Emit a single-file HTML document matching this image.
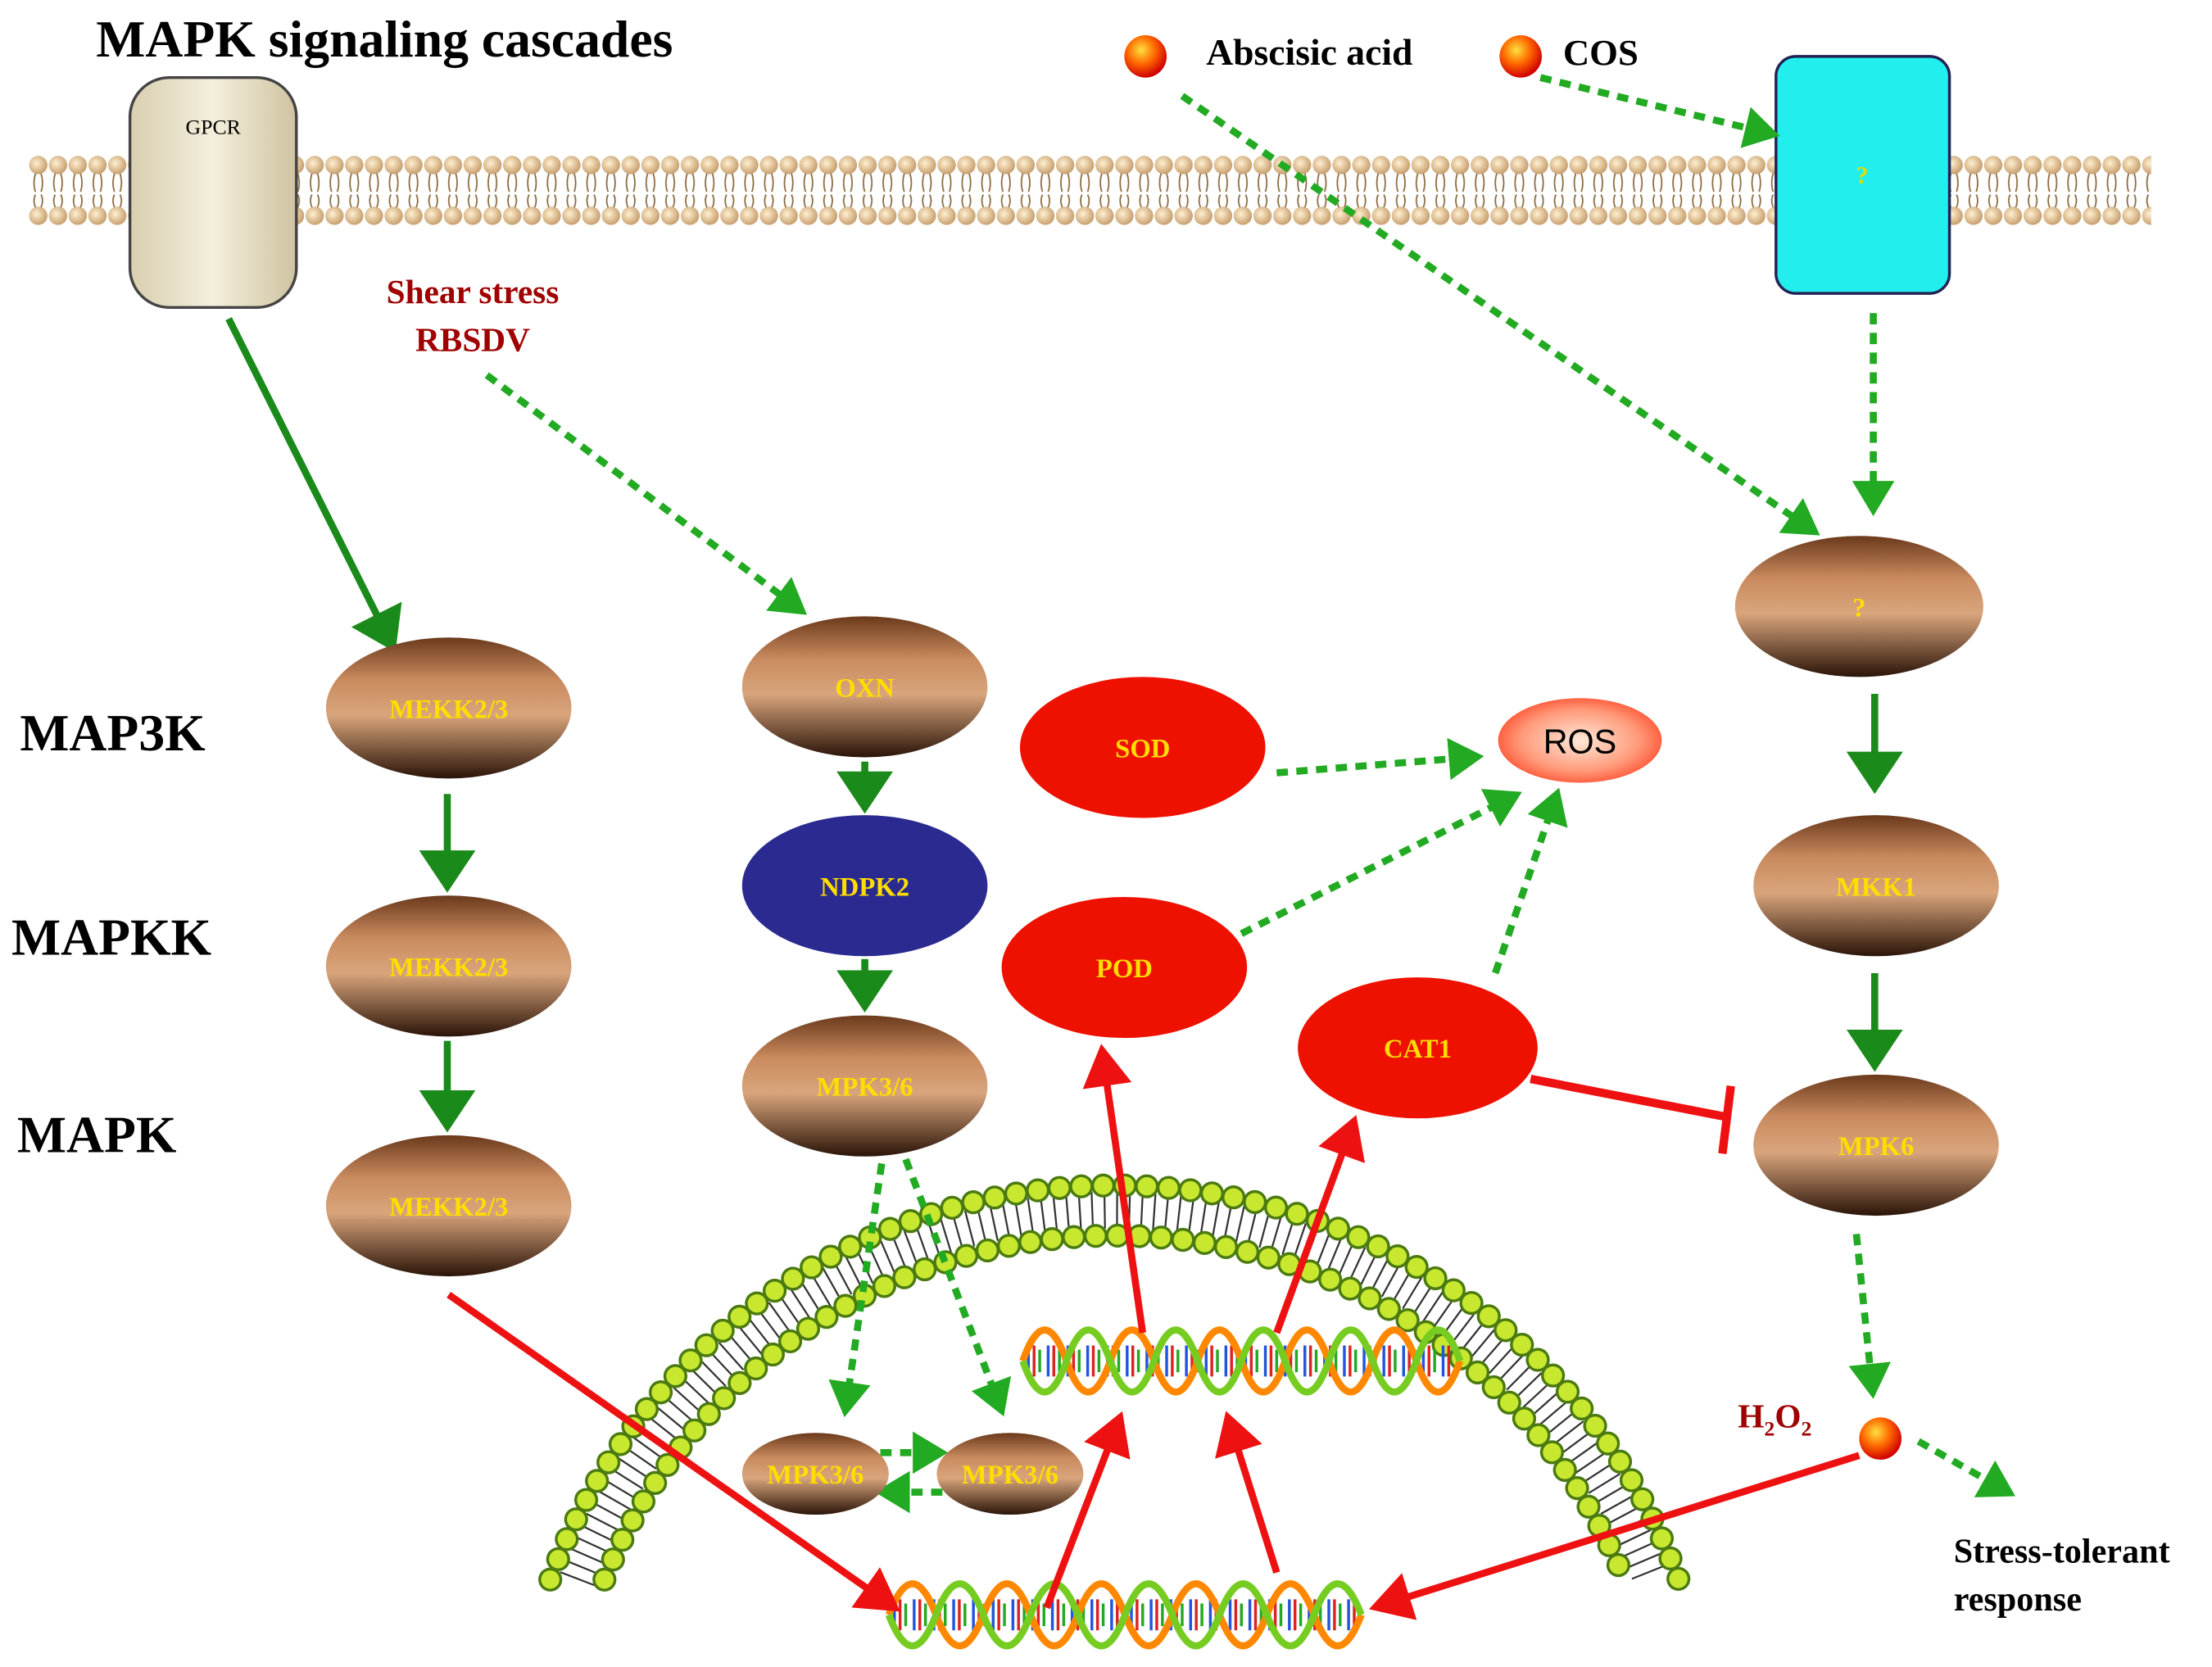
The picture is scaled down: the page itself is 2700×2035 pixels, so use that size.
<!DOCTYPE html>
<html><head><meta charset="utf-8"><style>
html,body{margin:0;padding:0;background:#fff;}
svg{display:block;}
text{font-family:"Liberation Serif",serif;}
</style></head><body>
<svg width="2700" height="2035" viewBox="0 0 1568 1182" xmlns="http://www.w3.org/2000/svg">
<defs>
<linearGradient id="br" x1="0" y1="0" x2="0" y2="1">
<stop offset="0" stop-color="#6b3a1c"/><stop offset="0.3" stop-color="#c98a5e"/><stop offset="0.55" stop-color="#d9a57c"/><stop offset="1" stop-color="#2a1408"/></linearGradient>
<radialGradient id="ball" cx="0.4" cy="0.35" r="0.65"><stop offset="0" stop-color="#ffe040"/><stop offset="0.5" stop-color="#ff6a00"/><stop offset="1" stop-color="#d00000"/></radialGradient>
<radialGradient id="ros" cx="0.5" cy="0.5" r="0.6"><stop offset="0" stop-color="#ffe8d8"/><stop offset="0.6" stop-color="#ff9a7a"/><stop offset="1" stop-color="#ff3a1a"/></radialGradient>
<linearGradient id="gp" x1="0" y1="0" x2="1" y2="0"><stop offset="0" stop-color="#d9cfb0"/><stop offset="0.5" stop-color="#f4efdc"/><stop offset="1" stop-color="#cfc3a0"/></linearGradient>
<radialGradient id="head" cx="0.4" cy="0.4" r="0.6"><stop offset="0" stop-color="#fff0d0"/><stop offset="1" stop-color="#c8a070"/></radialGradient>
<pattern id="mem" x="20" y="108" width="14" height="56" patternUnits="userSpaceOnUse">
<circle cx="7" cy="9" r="6.5" fill="url(#head)"/><circle cx="7" cy="45" r="6.5" fill="url(#head)"/>
<path d="M5 15 Q3 22 5 28 M9 15 Q11 22 9 28 M5 30 Q3 34 5 39 M9 30 Q11 34 9 39" stroke="#8a6a40" stroke-width="1" fill="none"/>
</pattern>
<marker id="ag" markerWidth="8" markerHeight="8" refX="5" refY="4" orient="auto" markerUnits="strokeWidth"><path d="M0,0 L6,4 L0,8 z" fill="#1a8a1a"/></marker>
<marker id="ag2" markerWidth="6" markerHeight="6" refX="3" refY="3" orient="auto" markerUnits="strokeWidth"><path d="M0,0 L5,3 L0,6 z" fill="#22aa22"/></marker>
<marker id="ar" markerWidth="7" markerHeight="7" refX="4" refY="3.5" orient="auto" markerUnits="strokeWidth"><path d="M0,0 L6,3.5 L0,7 z" fill="#ee1111"/></marker>
</defs>

<text x="68" y="40" font-size="37" font-weight="bold">MAPK signaling cascades</text>
<rect x="20" y="108" width="1505" height="56" fill="url(#mem)"/>

<rect x="92" y="55" width="118" height="163" rx="28" fill="url(#gp)" stroke="#444" stroke-width="2"/>
<text x="151" y="95" font-size="15" text-anchor="middle">GPCR</text>
<rect x="1259" y="40" width="123" height="168" rx="14" fill="#22eeee" stroke="#225" stroke-width="2"/>
<text x="1320" y="130" font-size="18" fill="#dddd00" text-anchor="middle" font-weight="bold">?</text>

<circle cx="812" cy="40" r="15" fill="url(#ball)"/>
<text x="855" y="46" font-size="26.5" font-weight="bold">Abscisic acid</text>
<circle cx="1078" cy="40" r="15" fill="url(#ball)"/>
<text x="1108" y="46" font-size="26" font-weight="bold">COS</text>

<text x="335" y="215" font-size="24" font-weight="bold" fill="#a00000" text-anchor="middle">Shear stress</text>
<text x="335" y="249" font-size="24" font-weight="bold" fill="#a00000" text-anchor="middle">RBSDV</text>

<g font-size="37" font-weight="bold">
<text x="14" y="532">MAP3K</text><text x="8" y="677">MAPKK</text><text x="12" y="817">MAPK</text>
</g>

<!-- nucleus bilayer -->
<g fill="none">
<path d="M409 1120 A408 408 0 0 1 1171 1120" stroke="#333" stroke-width="26" stroke-dasharray="1.3 7.5"/>
<path d="M390 1120 A426 426 0 0 1 1190 1120" stroke="#4a7a10" stroke-width="17" stroke-dasharray="0 15.5" stroke-linecap="round"/>
<path d="M390 1120 A426 426 0 0 1 1190 1120" stroke="#c8e830" stroke-width="13" stroke-dasharray="0 15.5" stroke-linecap="round"/>
<path d="M428.4 1120 A390 390 0 0 1 1151.6 1120" stroke="#4a7a10" stroke-width="17" stroke-dasharray="0 15.5" stroke-linecap="round"/>
<path d="M428.4 1120 A390 390 0 0 1 1151.6 1120" stroke="#c8e830" stroke-width="13" stroke-dasharray="0 15.5" stroke-linecap="round"/>
</g>

<!-- dashed green -->
<g stroke="#22aa22" stroke-width="5" stroke-dasharray="8 6" fill="none" marker-end="url(#ag2)">
<line x1="838" y1="68" x2="1282" y2="374"/>
<line x1="1092" y1="55" x2="1252" y2="94"/>
<line x1="1328" y1="222" x2="1328" y2="356"/>
<line x1="345" y1="266" x2="564" y2="430"/>
<line x1="905" y1="548" x2="1042" y2="537"/>
<line x1="880" y1="662" x2="1070" y2="566"/>
<line x1="1060" y1="690" x2="1102" y2="568"/>
<line x1="625" y1="825" x2="600" y2="995"/>
<line x1="642" y1="822" x2="708" y2="995"/>
<line x1="624" y1="1030" x2="662" y2="1030"/>
<line x1="668" y1="1058" x2="630" y2="1058"/>
<line x1="1316" y1="875" x2="1327" y2="982"/>
<line x1="1360" y1="1022" x2="1420" y2="1056"/>
</g>

<!-- solid green -->
<g stroke="#1a8a1a" stroke-width="5" fill="none" marker-end="url(#ag)">
<line x1="162" y1="226" x2="278" y2="458"/>
<line x1="317" y1="563" x2="317" y2="628"/>
<line x1="317" y1="738" x2="317" y2="798"/>
<line x1="613" y1="540" x2="613" y2="572"/>
<line x1="613" y1="680" x2="613" y2="713"/>
<line x1="1329" y1="492" x2="1329" y2="558"/>
<line x1="1329" y1="690" x2="1329" y2="755"/>
</g>

<!-- DNA -->
<g fill="none">
<line x1="728" y1="965" x2="1028" y2="965" stroke="#2255dd" stroke-width="22" stroke-dasharray="2 12"/>
<line x1="732" y1="965" x2="1028" y2="965" stroke="#dd2222" stroke-width="22" stroke-dasharray="2 12"/>
<line x1="736" y1="965" x2="1028" y2="965" stroke="#22aa22" stroke-width="16" stroke-dasharray="2 12"/>
<path d="M725 965 q15.5 -44 31 0 t31 0 t31 0 t31 0 t31 0 t31 0 t31 0 t31 0 t31 0 t31 0" stroke="#ff8800" stroke-width="5"/>
<path d="M725 965 q15.5 44 31 0 t31 0 t31 0 t31 0 t31 0 t31 0 t31 0 t31 0 t31 0 t31 0" stroke="#77cc22" stroke-width="5"/>
<line x1="633" y1="1145" x2="963" y2="1145" stroke="#2255dd" stroke-width="22" stroke-dasharray="2 12"/>
<line x1="637" y1="1145" x2="963" y2="1145" stroke="#dd2222" stroke-width="22" stroke-dasharray="2 12"/>
<line x1="641" y1="1145" x2="963" y2="1145" stroke="#22aa22" stroke-width="16" stroke-dasharray="2 12"/>
<path d="M630 1145 q16.75 -44 33.5 0 t33.5 0 t33.5 0 t33.5 0 t33.5 0 t33.5 0 t33.5 0 t33.5 0 t33.5 0 t33.5 0" stroke="#ff8800" stroke-width="5"/>
<path d="M630 1145 q16.75 44 33.5 0 t33.5 0 t33.5 0 t33.5 0 t33.5 0 t33.5 0 t33.5 0 t33.5 0 t33.5 0 t33.5 0" stroke="#77cc22" stroke-width="5"/>
</g>

<!-- ellipses -->
<g font-size="19" font-weight="bold" fill="#ffdd00" text-anchor="middle">
<ellipse cx="318" cy="502" rx="87" ry="50" fill="url(#br)"/><text x="318" y="509">MEKK2/3</text>
<ellipse cx="318" cy="685" rx="87" ry="50" fill="url(#br)"/><text x="318" y="692">MEKK2/3</text>
<ellipse cx="318" cy="855" rx="87" ry="50" fill="url(#br)"/><text x="318" y="862">MEKK2/3</text>
<ellipse cx="613" cy="487" rx="87" ry="50" fill="url(#br)"/><text x="613" y="494">OXN</text>
<ellipse cx="613" cy="628" rx="87" ry="50" fill="#2a2a90"/><text x="613" y="635">NDPK2</text>
<ellipse cx="613" cy="770" rx="87" ry="50" fill="url(#br)"/><text x="613" y="777">MPK3/6</text>
<ellipse cx="1318" cy="430" rx="88" ry="50" fill="url(#br)"/><text x="1318" y="437">?</text>
<ellipse cx="1330" cy="628" rx="87" ry="50" fill="url(#br)"/><text x="1330" y="635">MKK1</text>
<ellipse cx="1330" cy="812" rx="87" ry="50" fill="url(#br)"/><text x="1330" y="819">MPK6</text>
<ellipse cx="578" cy="1045" rx="52" ry="29" fill="url(#br)"/><text x="578" y="1052">MPK3/6</text>
<ellipse cx="716" cy="1045" rx="52" ry="29" fill="url(#br)"/><text x="716" y="1052">MPK3/6</text>
<ellipse cx="810" cy="530" rx="87" ry="50" fill="#ee1100"/><text x="810" y="537">SOD</text>
<ellipse cx="797" cy="686" rx="87" ry="50" fill="#ee1100"/><text x="797" y="693">POD</text>
<ellipse cx="1005" cy="743" rx="85" ry="50" fill="#ee1100"/><text x="1005" y="750">CAT1</text>
</g>
<ellipse cx="1120" cy="525" rx="58" ry="30" fill="url(#ros)"/>
<text x="1120" y="534" font-size="24" text-anchor="middle" style="font-family:'Liberation Sans',sans-serif">ROS</text>

<!-- red arrows -->
<g stroke="#ee1111" stroke-width="5" fill="none" marker-end="url(#ar)">
<line x1="318" y1="918" x2="630" y2="1137"/>
<line x1="1318" y1="1032" x2="980" y2="1138"/>
<line x1="742" y1="1140" x2="792" y2="1010"/>
<line x1="905" y1="1115" x2="872" y2="1010"/>
<line x1="810" y1="945" x2="782" y2="750"/>
<line x1="905" y1="945" x2="958" y2="800"/>
</g>
<line x1="1085" y1="765" x2="1224" y2="792" stroke="#ee1111" stroke-width="6"/>
<line x1="1227" y1="770" x2="1221" y2="818" stroke="#ee1111" stroke-width="6"/>

<circle cx="1333" cy="1020" r="15" fill="url(#ball)"/>
<text x="1232" y="1012" font-size="24" font-weight="bold" fill="#a00000">H<tspan font-size="15" dy="6">2</tspan><tspan dy="-6">O</tspan><tspan font-size="15" dy="6">2</tspan></text>
<text x="1385" y="1108" font-size="24.5" font-weight="bold">Stress-tolerant</text>
<text x="1385" y="1142" font-size="24.5" font-weight="bold">response</text>
</svg>
</body></html>
